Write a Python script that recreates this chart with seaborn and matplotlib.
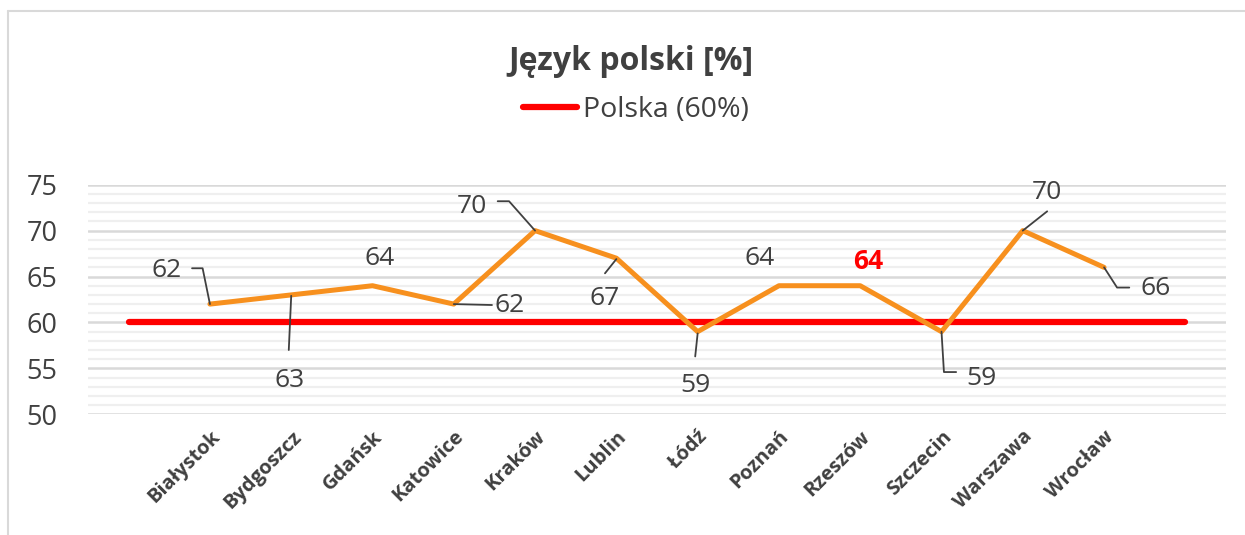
import matplotlib
matplotlib.use("Agg")
import matplotlib.pyplot as plt
from matplotlib.lines import Line2D
from matplotlib.ticker import MultipleLocator
import pandas as pd
import seaborn as sns

# Data
cities = ['Białystok', 'Bydgoszcz', 'Gdańsk', 'Katowice', 'Kraków', 'Lublin',
          'Łódź', 'Poznań', 'Rzeszów', 'Szczecin', 'Warszawa', 'Wrocław']
values = [62, 63, 64, 62, 70, 67, 59, 64, 64, 59, 70, 66]
national = 60
national_label = 'Polska (60%)'
title = 'Język polski [%]'
highlight = 'Rzeszów'

df = pd.DataFrame({'idx': range(len(cities)), 'city': cities, 'value': values})

# label placement (relative to point) and leader lines, Excel style
label_offsets = [(-0.53, 3.7), (-0.02, -9.3), (0.09, 3.0), (0.69, -0.1),
                 (-0.78, 2.6), (-0.14, -4.4), (-0.03, -5.9), (-0.24, 3.0),
                 (0.10, 2.6), (0.49, -5.1), (0.30, 4.1), (0.64, -2.3)]
leaders = [[(0, 0), (-0.09, 3.9), (-0.22, 3.9)],
           [(0, -0.1), (-0.03, -6.0)],
           None,
           [(0, 0), (0.47, -0.1)],
           [(0, 0), (-0.32, 3.2), (-0.46, 3.2)],
           [(0, -0.1), (-0.14, -1.65)],
           [(0, -0.2), (-0.03, -2.7)],
           None,
           None,
           [(0, 0), (0.03, -4.4), (0.18, -4.4)],
           [(0, 0), (0.30, 2.1)],
           [(0, 0), (0.16, -2.2), (0.31, -2.2)]]

sns.set_style("white")
plt.rcParams['font.family'] = ['Open Sans', 'DejaVu Sans']
TXT = '#404040'

fig = plt.figure(figsize=(12.45, 5.35), dpi=100)
ax = fig.add_axes([88 / 1245, 1 - 414.3 / 535, (1226 - 88) / 1245, (414.3 - 184.7) / 535])

# grid
ax.set_ylim(50, 75)
ax.set_xlim(-1.5, len(cities) + 0.5)
ax.yaxis.set_major_locator(MultipleLocator(5))
ax.yaxis.set_minor_locator(MultipleLocator(1))
ax.grid(axis='y', which='minor', color='#EFEFEF', lw=1.6)
ax.grid(axis='y', which='major', color='#D9D9D9', lw=1.8)
ax.set_axisbelow(True)
for s in ax.spines.values():
    s.set_visible(False)

# national line spans the padded categories
ax.plot([-1, len(cities)], [national, national], color='#FF0000', lw=4.5,
        solid_capstyle='round', zorder=3)
sns.lineplot(data=df, x='idx', y='value', color='#F7901E', lw=3.6, ax=ax, zorder=4)

for i, v in enumerate(values):
    dx, dy = label_offsets[i]
    if cities[i] == highlight:
        ax.text(i + dx, v + dy, str(v), color='#FF0000', fontsize=19, fontweight='bold',
                ha='center', va='center', zorder=6)
    else:
        ax.text(i + dx, v + dy, str(v), color=TXT, fontsize=19,
                ha='center', va='center', zorder=6)
    if leaders[i]:
        ax.plot([i + p[0] for p in leaders[i]], [v + p[1] for p in leaders[i]],
                color=TXT, lw=1.3, zorder=5)

ax.set_xticks(range(len(cities)))
ax.set_xticklabels(cities, rotation=45, ha='right', rotation_mode='anchor',
                   fontsize=14.5, fontweight='bold', color=TXT)
ax.tick_params(axis='x', length=0, pad=9)
ax.tick_params(axis='y', which='both', length=0, pad=22, labelsize=19.5, labelcolor=TXT)
ax.set_xlabel('')
ax.set_ylabel('')

fig.text(0.507, 1 - 61 / 535, title, ha='center', va='center', fontsize=23,
         fontweight='bold', color=TXT)
handle = Line2D([], [], color='#FF0000', lw=4.5, solid_capstyle='round')
fig.legend([handle], [national_label], loc='center', bbox_to_anchor=(0.511, 1 - 110 / 535),
           frameon=False, fontsize=20.5, handlelength=1.9, handletextpad=0.2,
           labelcolor=TXT)

# chart border
fig.add_artist(Line2D([8 / 1245, 8 / 1245], [0, 1 - 11 / 535], color='#D9D9D9', lw=1.5))
fig.add_artist(Line2D([8 / 1245, 1], [1 - 11 / 535, 1 - 11 / 535], color='#D9D9D9', lw=1.5))

fig.savefig('out.png', dpi=100)
